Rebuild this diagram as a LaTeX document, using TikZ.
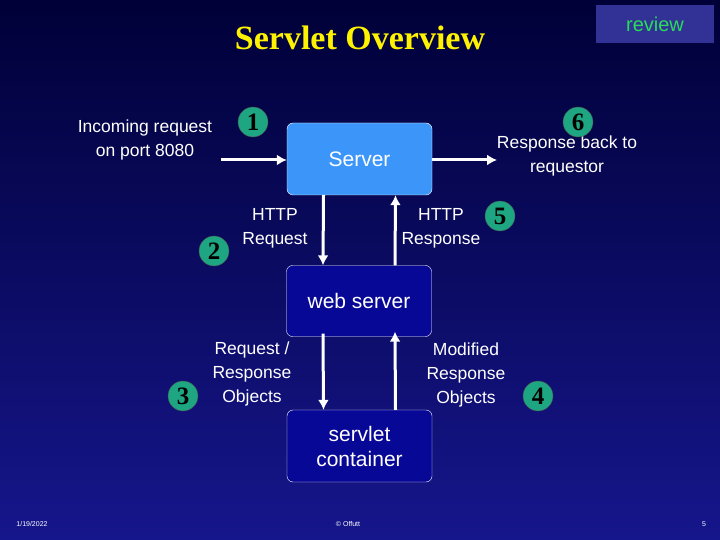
\documentclass[tikz,border=0pt]{standalone}
\usepackage{fontspec}
\setmainfont{Liberation Sans}
\newfontfamily\titlefont{Liberation Serif}
\usetikzlibrary{positioning,arrows.meta}
\definecolor{bgtop}{RGB}{0,0,56}
\definecolor{bgbot}{RGB}{22,22,140}
\definecolor{srvblue}{RGB}{60,150,250}
\definecolor{boxblue}{RGB}{8,8,150}
\definecolor{stepgreen}{RGB}{30,165,130}
\definecolor{revbox}{RGB}{50,50,150}
\definecolor{revtext}{RGB}{40,220,90}
\tikzset{
  box/.style={draw=white, thin, rounded corners=6pt, minimum width=145pt, text=white, font=\fontsize{21}{25}\selectfont, align=center},
  stepnum/.style={circle, draw=black!70, fill=stepgreen, minimum size=30pt, inner sep=0pt, font=\titlefont\bfseries\fontsize{25}{25}\selectfont},
  lbl/.style={text=white, align=center, font=\fontsize{17.5}{24}\selectfont},
  flow/.style={draw=white, line width=3pt, -{Latex[length=10pt,width=11pt]}},
  foot/.style={text=white, font=\fontsize{7}{8}\selectfont}
}
\begin{document}
\begin{tikzpicture}[x=1pt, y=-1pt]
\shade[top color=bgtop, bottom color=bgbot] (0,0) rectangle (720,540);
\useasboundingbox (0,0) rectangle (720,540);
% title and review tag
\node[text=yellow, font=\titlefont\bfseries\fontsize{34}{38}\selectfont] (title) at (360,38) {Servlet Overview};
\node[fill=revbox, minimum width=118pt, minimum height=38pt, text=revtext, font=\fontsize{20}{22}\selectfont] (review) at (655,24) {review};
% boxes
\node[box, fill=srvblue, minimum height=72pt] (server) at (359.5,159) {Server};
\node[box, fill=boxblue, minimum height=71pt] (web) at (359,301) {web server};
\node[box, fill=boxblue, minimum height=72pt, text depth=0pt] (cont) at (359.5,446) {servlet\\container};
% free ends
\coordinate (in) at (221,160);
\coordinate (out) at (497,160);
% arrows
\draw[flow] (in) -- (server.west |- in);
\draw[flow] (server.east |- out) -- (out);
\draw[flow] ([xshift=-36pt]server.south) -- ([xshift=-36pt]web.north);
\draw[flow] ([xshift=36pt]web.north) -- ([xshift=36pt]server.south);
\draw[flow] ([xshift=-36pt,yshift=3pt]web.south) -- ([xshift=-36pt]cont.north);
\draw[flow] ([xshift=36pt]cont.north) -- ([xshift=36pt,yshift=5pt]web.south);
% labels
\node[lbl] (inlbl) at (145,140) {Incoming request\\on port 8080};
\node[lbl] (outlbl) at (567,156) {Response back to\\requestor};
\node[lbl] (hreq) at (275,228) {HTTP\\Request};
\node[lbl] (hres) at (441,228) {HTTP\\Response};
\node[lbl] (rrobj) at (252,374) {Request /\\Response\\Objects};
\node[lbl] (mrobj) at (466,375) {Modified\\Response\\Objects};
% step numbers
\node[stepnum] (s1) at (253,122) {1};
\node[stepnum] (s6) at (578,122) {6};
\node[stepnum] (s2) at (214,251) {2};
\node[stepnum] (s5) at (500,216) {5};
\node[stepnum] (s3) at (183,396) {3};
\node[stepnum] (s4) at (538,396) {4};
% footer
\node[foot] (date) at (32,524) {1/19/2022};
\node[foot] (copy) at (348,524) {© Offutt};
\node[foot] (page) at (704,524) {5};
\end{tikzpicture}
\end{document}
